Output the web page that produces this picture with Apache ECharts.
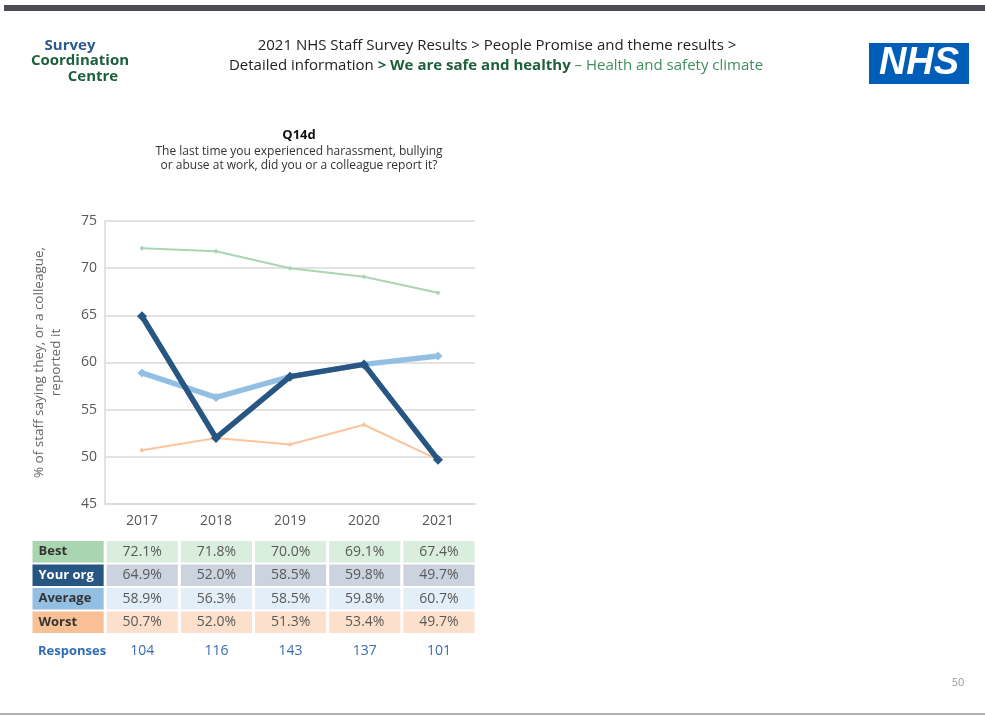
<!DOCTYPE html>
<html><head><meta charset="utf-8">
<script src="https://cdn.jsdelivr.net/npm/echarts@6/dist/echarts.min.js"></script>
<style>html,body{margin:0;padding:0;background:#fff}#c{width:985px;height:715px}</style>
</head><body><div id="c"></div>
<script>
const years = ['2017','2018','2019','2020','2021'];
const best = [72.1, 71.8, 70.0, 69.1, 67.4];
const yourOrg = [64.9, 52.0, 58.5, 59.8, 49.7];
const average = [58.9, 56.3, 58.5, 59.8, 60.7];
const worst = [50.7, 52.0, 51.3, 53.4, 49.7];
const responses = [104, 116, 143, 137, 101];
const rowNames = ['Best', 'Your org', 'Average', 'Worst'];
const yMin = 45, yMax = 75, yStep = 5;

const rowValues = [best, yourOrg, average, worst];
const labelBg = ['#a9d6b1', '#285683', '#93c0e2', '#f9bf95'];
const cellBg = ['#d9eedc', '#cbd3de', '#e2eef8', '#fde0cc'];
const labelColor = ['#333', '#fff', '#333', '#333'];
const FONT = '"Open Sans", "Noto Sans", sans-serif';

const tableData = [];
rowValues.forEach((vals, r) => {
  tableData.push([0, r, rowNames[r]]);
  vals.forEach((v, c) => tableData.push([c + 1, r, v.toFixed(1) + '%']));
});
const respData = [[0, 0, 'Responses']];
responses.forEach((v, c) => respData.push([c + 1, 0, String(v)]));

const chart = echarts.init(document.getElementById('c'), null, {renderer: 'canvas'});
chart.setOption({
  animation: false,
  textStyle: {fontFamily: FONT},
  title: [{
    text: 'Q14d',
    subtext: 'The last time you experienced harassment, bullying\nor abuse at work, did you or a colleague report it?',
    left: 294, top: 124, textAlign: 'center', itemGap: 3,
    textStyle: {fontSize: 13, fontWeight: 'bold', color: '#111', fontFamily: FONT},
    subtextStyle: {fontSize: 12, color: '#333', lineHeight: 14, fontFamily: FONT}
  }],
  grid: [
    {left: 105, right: 510, top: 221, bottom: 211},
    {left: 31, right: 509, top: 540, height: 94},
    {left: 31, right: 509, top: 640, height: 22}
  ],
  xAxis: [
    {type: 'category', data: years, gridIndex: 0, boundaryGap: true,
     axisLine: {lineStyle: {color: '#d9d9d9', width: 1.5}}, axisTick: {show: false},
     axisLabel: {color: '#595959', fontSize: 14, margin: 10, fontFamily: FONT}},
    {type: 'category', data: ['', ...years], gridIndex: 1, show: false},
    {type: 'category', data: ['', ...years], gridIndex: 2, show: false}
  ],
  yAxis: [
    {type: 'value', gridIndex: 0, min: yMin, max: yMax, interval: yStep,
     name: '% of staff saying they, or a colleague,\nreported it',
     nameLocation: 'middle', nameGap: 40, nameRotate: 90,
     nameTextStyle: {color: '#666', fontSize: 13.5, lineHeight: 17, fontFamily: FONT},
     axisLine: {show: true, lineStyle: {color: '#d9d9d9', width: 1.5}}, axisTick: {show: false},
     axisLabel: {color: '#595959', fontSize: 14, margin: 8, fontFamily: FONT},
     splitLine: {lineStyle: {color: '#d9d9d9', width: 1.5}}},
    {type: 'category', data: rowNames, gridIndex: 1, inverse: true, show: false},
    {type: 'category', data: ['Responses'], gridIndex: 2, show: false}
  ],
  series: [
    {name: 'Best', type: 'line', data: best, xAxisIndex: 0, yAxisIndex: 0, z: 2,
     lineStyle: {color: '#a9d6b1', width: 2}, itemStyle: {color: '#a9d6b1'},
     symbol: 'diamond', symbolSize: 5},
    {name: 'Worst', type: 'line', data: worst, xAxisIndex: 0, yAxisIndex: 0, z: 2,
     lineStyle: {color: '#fbc49c', width: 2}, itemStyle: {color: '#fbc49c'},
     symbol: 'diamond', symbolSize: 5},
    {name: 'Average', type: 'line', data: average, xAxisIndex: 0, yAxisIndex: 0, z: 3,
     lineStyle: {color: '#93c0e2', width: 5.5}, itemStyle: {color: '#93c0e2'},
     symbol: 'diamond', symbolSize: 9},
    {name: 'Your org', type: 'line', data: yourOrg, xAxisIndex: 0, yAxisIndex: 0, z: 4,
     lineStyle: {color: '#285683', width: 5.5}, itemStyle: {color: '#285683'},
     symbol: 'diamond', symbolSize: 10},
    {type: 'custom', xAxisIndex: 1, yAxisIndex: 1, data: tableData,
     renderItem: function (params, api) {
       const c = api.value(0), r = api.value(1);
       const txt = tableData[params.dataIndex][2];
       const p = api.coord([c, r]);
       const s = api.size([1, 1]);
       const x0 = p[0] - s[0] / 2 + 1.5, y0 = p[1] - s[1] / 2 + 1;
       const w = s[0] - 3, h = s[1] - 2;
       const isLabel = c === 0;
       return {type: 'group', children: [
         {type: 'rect', shape: {x: x0, y: y0, width: w, height: h},
          style: {fill: isLabel ? labelBg[r] : cellBg[r]}},
         {type: 'text', x: isLabel ? x0 + 6 : p[0], y: p[1],
          style: {text: txt, textAlign: isLabel ? 'left' : 'center', textVerticalAlign: 'middle',
                  font: (isLabel ? 'bold 13px ' : '14px ') + FONT,
                  fill: isLabel ? labelColor[r] : '#595959'}}
       ]};
     }},
    {type: 'custom', xAxisIndex: 2, yAxisIndex: 2, data: respData,
     renderItem: function (params, api) {
       const c = api.value(0);
       const txt = respData[params.dataIndex][2];
       const p = api.coord([c, 0]);
       const s = api.size([1, 1]);
       const isLabel = c === 0;
       return {type: 'text', x: isLabel ? p[0] - s[0] / 2 + 7 : p[0], y: p[1],
         style: {text: txt, textAlign: isLabel ? 'left' : 'center', textVerticalAlign: 'middle',
                 font: (isLabel ? 'bold 13px ' : '14px ') + FONT, fill: isLabel ? '#2f6db6' : '#3a6db0'}};
     }}
  ],
  graphic: [
    {type: 'rect', shape: {x: 4, y: 5, width: 981, height: 6}, style: {fill: '#4b4f54'}},
    {type: 'rect', shape: {x: 0, y: 713, width: 985, height: 2}, style: {fill: '#b0b0b0'}},
    {type: 'text', x: 70, y: 46, style: {text: 'Survey', textAlign: 'center', textVerticalAlign: 'middle', font: 'bold 15px ' + FONT, fill: '#2b5a8c'}},
    {type: 'text', x: 80, y: 61, style: {text: 'Coordination', textAlign: 'center', textVerticalAlign: 'middle', font: 'bold 15px ' + FONT, fill: '#1e5f3b'}},
    {type: 'text', x: 93, y: 77, style: {text: 'Centre', textAlign: 'center', textVerticalAlign: 'middle', font: 'bold 15px ' + FONT, fill: '#1e5f3b'}},
    {type: 'text', x: 497, y: 46, style: {text: '2021 NHS Staff Survey Results > People Promise and theme results >', textAlign: 'center', textVerticalAlign: 'middle', font: '15px ' + FONT, fill: '#222'}},
    {type: 'text', x: 496, y: 66, style: {
      text: '{a|Detailed information }{b|> We are safe and healthy}{c| – Health and safety climate}',
      textAlign: 'center', textVerticalAlign: 'middle',
      rich: {a: {fontSize: 15, fontFamily: FONT, fill: '#222', color: '#222'},
             b: {fontSize: 15, fontWeight: 'bold', fontFamily: FONT, fill: '#1e5f3b', color: '#1e5f3b'},
             c: {fontSize: 15, fontFamily: FONT, fill: '#3f8f5e', color: '#3f8f5e'}}}},
    {type: 'rect', shape: {x: 869, y: 43, width: 100, height: 41}, style: {fill: '#005eb8'}},
    {type: 'text', x: 919, y: 64, style: {text: 'NHS', textAlign: 'center', textVerticalAlign: 'middle', font: 'italic bold 38px "Liberation Sans", Arial, sans-serif', fill: '#fff'}},
    {type: 'text', x: 958, y: 683, style: {text: '50', textAlign: 'center', textVerticalAlign: 'middle', font: '11px ' + FONT, fill: '#999'}}
  ]
});
</script></body></html>
